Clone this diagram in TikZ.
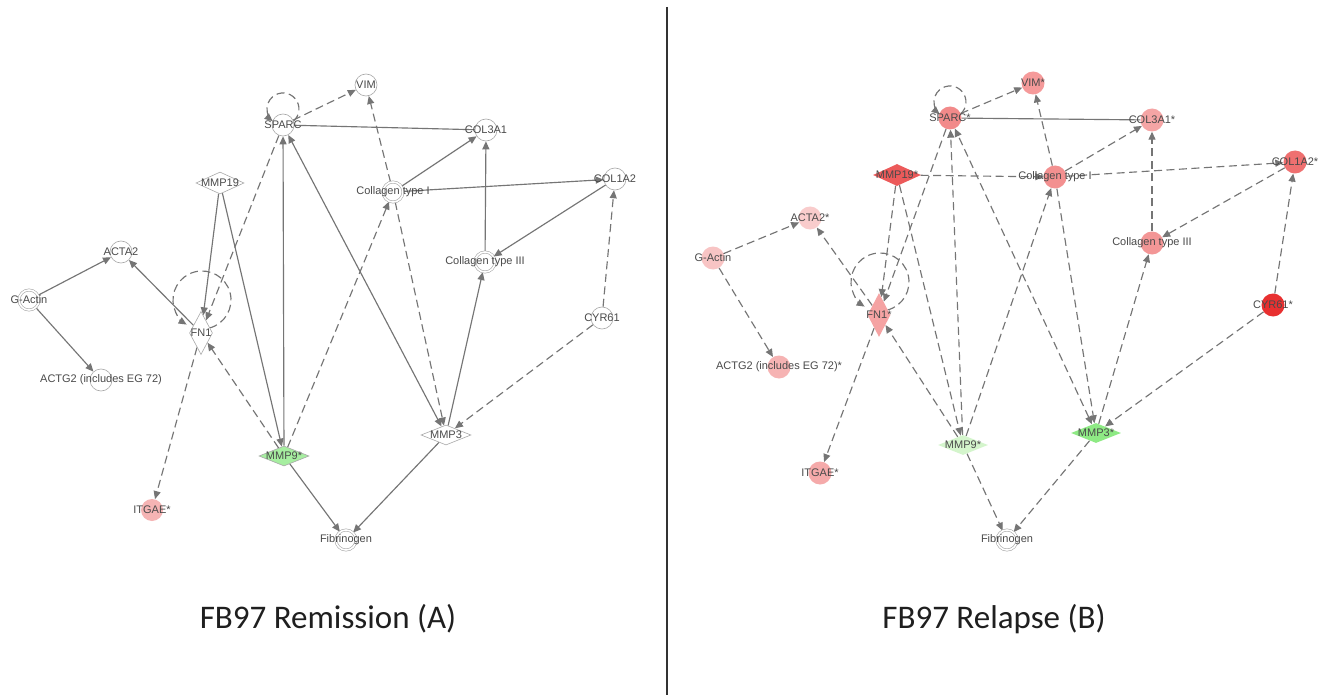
\documentclass[tikz,border=0pt]{standalone}
\usepackage{fontspec}
\setmainfont{Liberation Sans}
\newfontfamily\capfont{Carlito}
\usetikzlibrary{shapes.geometric,arrows.meta,backgrounds}
\pgfdeclarelayer{bg}
\pgfsetlayers{bg,background,main}
\definecolor{edgecol}{HTML}{757575}
\definecolor{nodeline}{HTML}{A8A8A8}
\definecolor{labcol}{HTML}{4A4A4A}
\definecolor{gA}{HTML}{A6EEA0}
\definecolor{pA}{HTML}{F5B4B4}
\definecolor{cSparc}{HTML}{F28A8A}
\definecolor{cVim}{HTML}{F59A9A}
\definecolor{cColIIIa}{HTML}{F5A5A5}
\definecolor{cColI}{HTML}{F39090}
\definecolor{cColIa}{HTML}{EF7070}
\definecolor{cColIII}{HTML}{F39696}
\definecolor{cCyr}{HTML}{E83030}
\definecolor{cMmpXIX}{HTML}{EC5A5A}
\definecolor{cActa}{HTML}{F9CCCC}
\definecolor{cGact}{HTML}{F8C4C4}
\definecolor{cFn}{HTML}{F5A3A3}
\definecolor{cActg}{HTML}{F6B3B3}
\definecolor{cItg}{HTML}{F5AAAA}
\definecolor{cMmpIX}{HTML}{D4F5CC}
\definecolor{cMmpIII}{HTML}{8EEA84}
\begin{document}
\begin{tikzpicture}[x=1pt,y=-1pt,
  >={Triangle[length=8pt,width=7pt]},
  gn/.style={circle, minimum size=22pt, inner sep=0pt, draw=nodeline, line width=0.6pt, fill=white},
  cx/.style={gn, double=white, double distance=1.6pt, minimum size=20pt},
  rn/.style={circle, minimum size=23pt, inner sep=0pt, draw=none},
  dm/.style={diamond, inner sep=0pt, minimum width=50pt, minimum height=20pt, draw=nodeline, line width=0.6pt, fill=white},
  tdm/.style={diamond, inner sep=0pt, minimum width=23pt, minimum height=43pt, draw=nodeline, line width=0.6pt, fill=white},
  lab/.style={font=\fontsize{11}{12}\selectfont, text=labcol, inner sep=0pt},
  se/.style={draw=edgecol, line width=1.15pt},
  de/.style={se, dash pattern=on 8pt off 4.5pt},
  capt/.style={font=\capfont\fontsize{33}{40}\selectfont, text=black!88, inner sep=0pt}
]
\begin{pgfonlayer}{bg}
\fill[white] (0,0) rectangle (1322,695);
\end{pgfonlayer}
\useasboundingbox (0,0) rectangle (1322,695);

% separator
\draw[line width=2pt, color=black!80] (667,7) -- (667,695);

% ---------------- Panel A ----------------
\node[gn, label={[lab]center:SPARC}] (sparcA) at (283,125) {};
\node[gn, label={[lab]center:VIM}] (vimA) at (366,85) {};
\node[gn, label={[lab]center:COL3A1}] (col3a1A) at (486,130) {};
\node[cx, label={[lab]center:Collagen type I}] (coll1A) at (393,192) {};
\node[gn, label={[lab]center:COL1A2}] (col1a2A) at (615,179) {};
\node[cx, label={[lab]center:Collagen type III}] (coll3A) at (485,262) {};
\node[gn, label={[lab]center:CYR61}] (cyrA) at (602,318) {};
\node[dm, minimum width=48pt, minimum height=22pt, label={[lab]center:MMP19}] (mmp19A) at (220,183) {};
\node[gn, label={[lab]center:ACTA2}] (acta2A) at (121,252) {};
\node[cx, label={[lab]center:G-Actin}] (gactinA) at (29,300) {};
\node[tdm, label={[lab]center:FN1}] (fn1A) at (201,333) {};
\node[gn, label={[lab]center:ACTG2 (includes EG 72)}] (actg2A) at (101,380) {};
\node[dm, fill=gA, label={[lab]center:MMP9*}] (mmp9A) at (284,456) {};
\node[dm, label={[lab]center:MMP3}] (mmp3A) at (446,435) {};
\node[gn, draw=none, fill=pA, label={[lab]center:ITGAE*}] (itgaeA) at (152,510) {};
\node[cx, label={[lab]center:Fibrinogen}] (fibA) at (346,540) {};

% ---------------- Panel B ----------------
\node[rn, fill=cSparc, label={[lab]center:SPARC*}] (sparcB) at (950,118) {};
\node[rn, fill=cVim, label={[lab]center:VIM*}] (vimB) at (1033,83) {};
\node[rn, fill=cColIIIa, label={[lab]center:COL3A1*}] (col3a1B) at (1152,120) {};
\node[rn, fill=cColI, label={[lab]center:Collagen type I}] (coll1B) at (1055,177) {};
\node[rn, fill=cColIa, label={[lab]center:COL1A2*}] (col1a2B) at (1295,162) {};
\node[rn, fill=cColIII, label={[lab]center:Collagen type III}] (coll3B) at (1152,243) {};
\node[rn, fill=cCyr, label={[lab]center:CYR61*}] (cyrB) at (1273,305) {};
\node[dm, draw=none, fill=cMmpXIX, minimum width=48pt, minimum height=22pt, label={[lab]center:MMP19*}] (mmp19B) at (897,175) {};
\node[rn, fill=cActa, label={[lab]center:ACTA2*}] (acta2B) at (810,218) {};
\node[rn, fill=cGact, label={[lab]center:G-Actin}] (gactinB) at (713,258) {};
\node[tdm, draw=none, fill=cFn, minimum height=44pt, label={[lab]center:FN1*}] (fn1B) at (879,315) {};
\node[rn, fill=cActg, label={[lab]center:ACTG2 (includes EG 72)*}] (actg2B) at (779,367) {};
\node[rn, fill=cItg, label={[lab]center:ITGAE*}] (itgaeB) at (820,473) {};
\node[dm, draw=none, fill=cMmpIX, label={[lab]center:MMP9*}] (mmp9B) at (963,445) {};
\node[dm, draw=none, fill=cMmpIII, label={[lab]center:MMP3*}] (mmp3B) at (1096,433) {};
\node[cx, label={[lab]center:Fibrinogen}] (fibB) at (1007,540) {};

% captions
\node[capt] (capA) at (328,619) {FB97 Remission (A)};
\node[capt] (capB) at (994,619) {FB97 Relapse (B)};

% ---------------- Edges ----------------
\begin{pgfonlayer}{background}
% Panel A solid
\draw[se] (sparcA) -- (col3a1A);
\draw[se,->] (coll1A) -- (col3a1A);
\draw[se,->] (coll1A) -- (col1a2A);
\draw[se,->] (col1a2A) -- (coll3A);
\draw[se,->] (coll3A) -- (col3a1A);
\draw[se,->] (mmp3A) -- (coll3A);
\draw[se,->] (mmp9A) -- (sparcA);
\draw[se,<->] (mmp3A) -- (sparcA);
\draw[se,->] (mmp19A) -- (fn1A);
\draw[se,->] (mmp19A) -- (mmp9A);
\draw[se,->] (fn1A) -- (acta2A);
\draw[se,->] (gactinA) -- (acta2A);
\draw[se,->] (gactinA) -- (actg2A);
\draw[se,->] (mmp9A) -- (fibA);
\draw[se,->] (mmp3A) -- (fibA);
% Panel A dashed
\draw[de,->] (sparcA) -- (vimA);
\draw[de,->] (coll1A) -- (vimA);
\draw[de,->] (coll1A) -- (mmp3A);
\draw[de,->] (cyrA) -- (col1a2A);
\draw[de,->] (cyrA) -- (mmp3A);
\draw[de,->] (mmp9A) -- (coll1A);
\draw[de,->] (sparcA) -- (fn1A);
\draw[de,->] (mmp9A) -- (fn1A);
\draw[de,->] (fn1A) -- (itgaeA);
\draw[de,->] ([shift={(10.3,-3.8)}]sparcA.center) arc[start angle=49.8, end angle=-229.8, radius=16];
\draw[de,->] ([shift={(8.5,-5)}]fn1A.center) arc[start angle=75, end angle=-238, radius=29];

% Panel B
\draw[se] (sparcB) -- (col3a1B);
\draw[de,->] (coll1B) -- (col3a1B);
\draw[de,->] (mmp19B) -- (coll1B);
\draw[de,->] (coll1B) -- (col1a2B);
\draw[de,->] (col1a2B) -- (coll3B);
\draw[de,->] (coll3B) -- (col3a1B);
\draw[de,->] (mmp3B) -- (coll3B);
\draw[de,->] (mmp9B) -- (sparcB);
\draw[de,<->] (mmp3B) -- (sparcB);
\draw[de,->] (mmp19B) -- (fn1B);
\draw[de,->] (mmp19B) -- (mmp9B);
\draw[de,->] (fn1B) -- (acta2B);
\draw[de,->] (gactinB) -- (acta2B);
\draw[de,->] (gactinB) -- (actg2B);
\draw[de,->] (mmp9B) -- (fibB);
\draw[de,->] (mmp3B) -- (fibB);
\draw[de,->] (sparcB) -- (vimB);
\draw[de,->] (coll1B) -- (vimB);
\draw[de,->] (coll1B) -- (mmp3B);
\draw[de,->] (cyrB) -- (col1a2B);
\draw[de,->] (cyrB) -- (mmp3B);
\draw[de,->] (mmp9B) -- (coll1B);
\draw[de,->] (sparcB) -- (fn1B);
\draw[de,->] (mmp9B) -- (fn1B);
\draw[de,->] (fn1B) -- (itgaeB);
\draw[de,->] ([shift={(10.3,-3.8)}]sparcB.center) arc[start angle=49.8, end angle=-229.8, radius=16];
\draw[de,->] ([shift={(8.5,-5)}]fn1B.center) arc[start angle=75, end angle=-238, radius=29];
\end{pgfonlayer}
\end{tikzpicture}
\end{document}
